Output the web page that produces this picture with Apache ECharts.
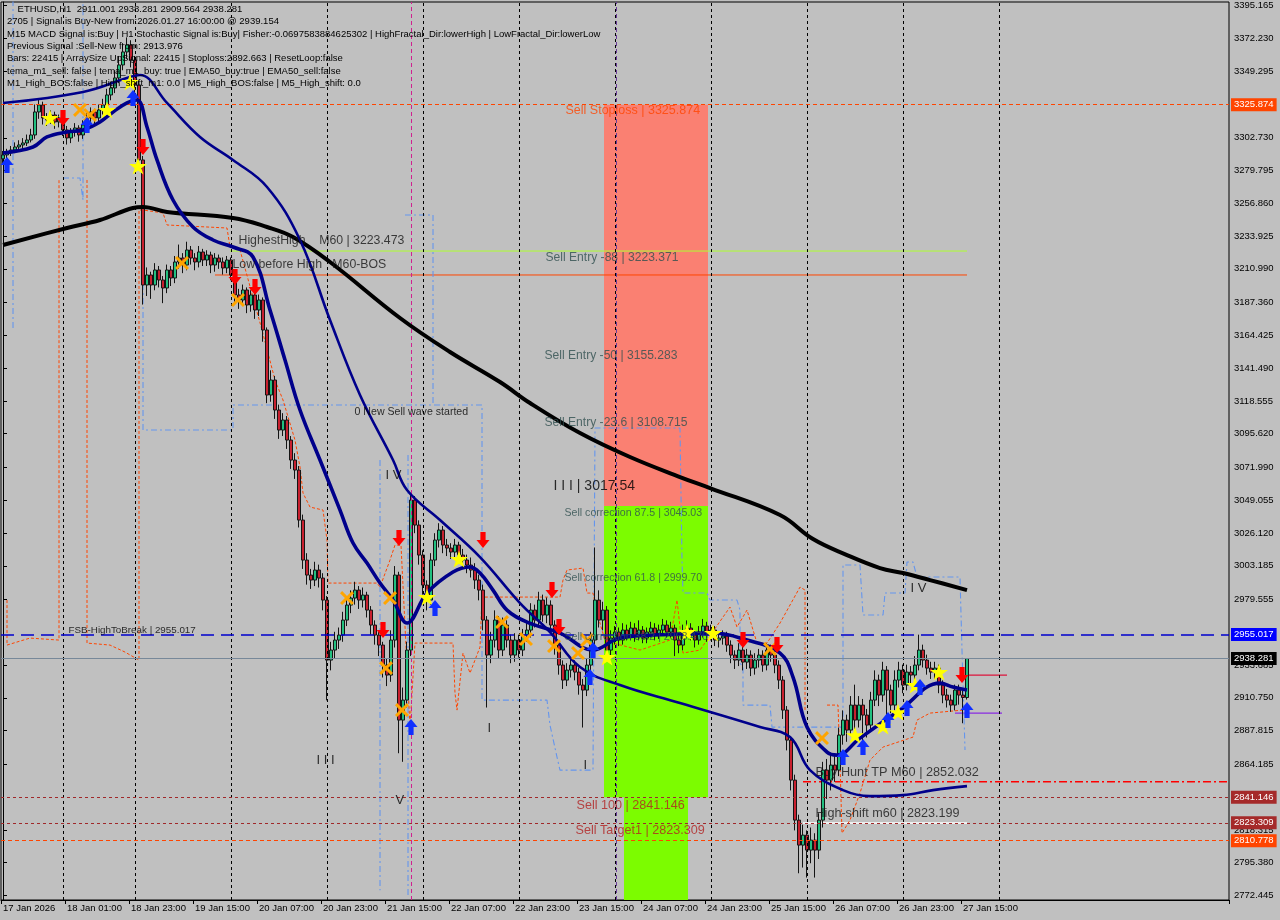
<!DOCTYPE html>
<html><head><meta charset="utf-8">
<script src="https://cdn.jsdelivr.net/npm/echarts@6/dist/echarts.min.js"></script>
<style>html,body{margin:0;padding:0;background:#C0C0C0}#c{width:1280px;height:920px}</style>
</head><body><div id="c"></div>
<script>
// ---------- DATA ----------
const opens=[3288.0,3290.7,3292.8,3294.2,3296.3,3297.7,3299.1,3301.2,3304.7,3320.8,
3325.7,3316.6,3315.2,3318.7,3313.8,3316.6,3308.2,3302.6,3306.8,3309.6,
3304.7,3311.7,3316.6,3320.8,3316.6,3322.2,3325.7,3332.7,3337.6,3344.6,
3353.7,3362.8,3367.7,3357.2,3339.7,3287.2,3199.7,3206.7,3199.7,3210.2,
3203.2,3197.6,3210.2,3204.6,3215.8,3218.6,3213.7,3224.2,3218.6,3215.8,
3222.8,3217.2,3220.7,3213.7,3218.6,3215.8,3211.6,3217.2,3206.7,3192.7,
3189.2,3196.2,3185.7,3192.7,3182.2,3189.2,3168.2,3122.7,3133.2,3112.2,
3098.2,3105.2,3091.2,3077.2,3070.2,3035.2,3007.2,2996.7,2993.2,3000.2,
2994.6,2979.2,2937.2,2944.2,2951.2,2954.7,2965.2,2975.7,2980.6,2986.2,
2979.2,2982.7,2972.2,2961.7,2954.7,2947.7,2933.7,2926.7,2951.2,2996.7,
2895.2,2909.2,2944.2,3049.2,3031.7,3010.7,2989.7,2979.2,3007.2,3021.2,
3028.2,3017.7,3015.6,3012.8,3017.7,3010.7,3007.2,3003.7,3000.2,2993.2,
2986.2,2965.2,2940.7,2951.2,2965.2,2944.2,2961.7,2951.2,2940.7,2951.2,
2944.2,2954.7,2958.2,2972.2,2965.2,2979.2,2968.7,2975.7,2961.7,2947.7,
2933.7,2923.2,2930.2,2933.7,2928.8,2919.7,2916.2,2933.7,2951.2,2979.2,
2965.2,2972.2,2944.2,2952.6,2956.8,2951.2,2958.2,2954.7,2959.6,2954.0,
2958.2,2952.6,2956.8,2959.6,2955.4,2958.2,2961.7,2956.8,2959.6,2951.2,
2947.7,2956.8,2959.6,2954.7,2951.2,2956.8,2961.0,2954.7,2958.2,2951.2,
2952.6,2954.0,2947.7,2940.7,2937.2,2944.2,2935.8,2940.7,2931.6,2937.2,
2940.7,2933.7,2944.2,2940.7,2933.7,2923.2,2902.2,2881.2,2853.2,2825.2,
2807.7,2814.7,2804.2,2811.2,2804.2,2825.2,2860.2,2853.2,2863.7,2860.2,
2884.7,2895.2,2888.2,2905.7,2895.2,2905.7,2898.7,2891.7,2909.2,2923.2,
2912.7,2930.2,2916.2,2905.7,2923.2,2930.2,2919.7,2928.8,2926.7,2933.7,
2944.2,2937.2,2931.6,2928.8,2931.6,2919.7,2912.7,2909.2,2905.7,2916.2,
2912.7,2911.001];
const closes=[3290.7,3292.8,3294.2,3296.3,3297.7,3299.1,3301.2,3304.7,3320.8,3325.7,
3316.6,3315.2,3318.7,3313.8,3316.6,3308.2,3302.6,3306.8,3309.6,3304.7,
3311.7,3316.6,3320.8,3316.6,3322.2,3325.7,3332.7,3337.6,3344.6,3353.7,
3362.8,3367.7,3357.2,3339.7,3287.2,3199.7,3206.7,3199.7,3210.2,3203.2,
3197.6,3210.2,3204.6,3215.8,3218.6,3213.7,3224.2,3218.6,3215.8,3222.8,
3217.2,3220.7,3213.7,3218.6,3215.8,3211.6,3217.2,3206.7,3192.7,3189.2,
3196.2,3185.7,3192.7,3182.2,3189.2,3168.2,3122.7,3133.2,3112.2,3098.2,
3105.2,3091.2,3077.2,3070.2,3035.2,3007.2,2996.7,2993.2,3000.2,2994.6,
2979.2,2937.2,2944.2,2951.2,2954.7,2965.2,2975.7,2980.6,2986.2,2979.2,
2982.7,2972.2,2961.7,2954.7,2947.7,2933.7,2926.7,2951.2,2996.7,2895.2,
2909.2,2944.2,3049.2,3031.7,3010.7,2989.7,2979.2,3007.2,3021.2,3028.2,
3017.7,3015.6,3012.8,3017.7,3010.7,3007.2,3003.7,3000.2,2993.2,2986.2,
2965.2,2940.7,2951.2,2965.2,2944.2,2961.7,2951.2,2940.7,2951.2,2944.2,
2954.7,2958.2,2972.2,2965.2,2979.2,2968.7,2975.7,2961.7,2947.7,2933.7,
2923.2,2930.2,2933.7,2928.8,2919.7,2916.2,2933.7,2951.2,2979.2,2965.2,
2972.2,2944.2,2952.6,2956.8,2951.2,2958.2,2954.7,2959.6,2954.0,2958.2,
2952.6,2956.8,2959.6,2955.4,2958.2,2961.7,2956.8,2959.6,2951.2,2947.7,
2956.8,2959.6,2954.7,2951.2,2956.8,2961.0,2954.7,2958.2,2951.2,2952.6,
2954.0,2947.7,2940.7,2937.2,2944.2,2935.8,2940.7,2931.6,2937.2,2940.7,
2933.7,2944.2,2940.7,2933.7,2923.2,2902.2,2881.2,2853.2,2825.2,2807.7,
2814.7,2804.2,2811.2,2804.2,2825.2,2860.2,2853.2,2863.7,2860.2,2884.7,
2895.2,2888.2,2905.7,2895.2,2905.7,2898.7,2891.7,2909.2,2923.2,2912.7,
2930.2,2916.2,2905.7,2923.2,2930.2,2919.7,2928.8,2926.7,2933.7,2944.2,
2937.2,2931.6,2928.8,2931.6,2919.7,2912.7,2909.2,2905.7,2916.2,2912.7,
2911.0,2938.281];
const highs=[3293.5,3295.0,3297.0,3299.5,3301.0,3302.5,3305.0,3309.0,3326.0,3330.0,
3328.0,3320.0,3322.0,3321.0,3319.0,3318.0,3311.0,3309.5,3313.0,3311.5,
3315.0,3320.0,3324.0,3323.0,3326.0,3330.0,3337.0,3342.0,3350.0,3360.0,
3369.0,3373.0,3371.0,3360.0,3343.0,3290.0,3212.0,3209.0,3215.0,3213.0,
3206.0,3214.0,3213.0,3220.0,3228.0,3222.0,3230.0,3227.0,3222.0,3227.0,
3225.0,3224.0,3223.0,3222.0,3221.0,3219.0,3220.0,3219.0,3209.0,3197.0,
3200.0,3198.0,3196.0,3194.0,3193.0,3191.0,3170.0,3140.0,3136.0,3116.0,
3110.0,3108.0,3094.0,3082.0,3073.0,3039.0,3012.0,3001.0,3006.0,3004.0,
2998.0,2982.0,2950.0,2957.0,2960.0,2971.0,2982.0,2986.0,2992.0,2989.0,
2988.0,2985.0,2975.0,2965.0,2958.0,2950.0,2938.0,2958.0,3003.0,2999.0,
2918.0,2950.0,3054.0,3052.0,3035.0,3014.0,2993.0,3012.0,3026.0,3033.0,
3031.0,3022.0,3019.0,3022.0,3020.0,3015.0,3011.0,3009.0,3005.0,2997.0,
2990.0,2968.0,2957.0,2972.0,2968.0,2967.0,2965.0,2955.0,2956.0,2955.0,
2959.0,2964.0,2977.0,2976.0,2985.0,2983.0,2981.0,2979.0,2965.0,2951.0,
2937.0,2935.0,2938.0,2937.0,2932.0,2924.0,2938.0,2957.0,3016.0,2986.0,
2978.0,2975.0,2958.0,2961.0,2960.0,2963.0,2962.0,2964.0,2963.0,2965.0,
2961.0,2960.0,2964.0,2963.0,2962.0,2966.0,2965.0,2964.0,2962.0,2955.0,
2962.0,2965.0,2963.0,2958.0,2961.0,2966.0,2964.0,2962.0,2961.0,2957.0,
2958.0,2957.0,2951.0,2944.0,2949.0,2947.0,2945.0,2944.0,2942.0,2945.0,
2944.0,2949.0,2948.0,2944.0,2937.0,2926.0,2905.0,2884.0,2857.0,2829.0,
2822.0,2818.0,2820.0,2816.0,2830.0,2866.0,2868.0,2872.0,2870.0,2890.0,
2902.0,2899.0,2912.0,2920.0,2912.0,2910.0,2903.0,2915.0,2930.0,2927.0,
2936.0,2933.0,2920.0,2930.0,2936.0,2934.0,2934.0,2933.0,2940.0,2955.0,
2948.0,2941.0,2936.0,2936.0,2934.0,2923.0,2917.0,2913.0,2920.0,2920.0,
2916.0,2938.281];
const lows=[3284.0,3288.5,3290.0,3292.0,3294.5,3295.0,3297.0,3299.5,3302.0,3316.0,
3312.0,3311.0,3312.5,3309.0,3310.0,3304.0,3298.0,3299.0,3303.5,3300.0,
3302.0,3308.0,3313.0,3312.0,3314.0,3319.0,3322.0,3329.0,3334.0,3341.0,
3350.0,3358.0,3352.0,3334.0,3282.0,3186.0,3192.0,3190.0,3196.0,3198.0,
3187.0,3194.0,3199.0,3201.0,3211.0,3208.0,3210.0,3214.0,3210.0,3212.0,
3213.0,3213.0,3208.0,3209.0,3211.0,3207.0,3208.0,3203.0,3188.0,3183.0,
3185.0,3180.0,3181.0,3176.0,3178.0,3160.0,3117.0,3118.0,3106.0,3092.0,
3094.0,3085.0,3071.0,3064.0,3030.0,3001.0,2990.0,2987.0,2989.0,2988.0,
2972.0,2909.0,2930.0,2938.0,2945.0,2950.0,2961.0,2970.0,2976.0,2973.0,
2974.0,2967.0,2955.0,2948.0,2940.0,2925.0,2919.0,2922.0,2946.0,2872.0,
2866.0,2904.0,2940.0,3026.0,3004.0,2983.0,2972.0,2976.0,3003.0,3016.0,
3012.0,3010.0,3008.0,3009.0,3005.0,3002.0,2998.0,2995.0,2987.0,2979.0,
2958.0,2904.0,2935.0,2946.0,2938.0,2940.0,2946.0,2935.0,2936.0,2939.0,
2940.0,2950.0,2953.0,2960.0,2961.0,2964.0,2963.0,2956.0,2941.0,2927.0,
2917.0,2919.0,2925.0,2923.0,2913.0,2890.0,2912.0,2929.0,2947.0,2960.0,
2958.0,2938.0,2940.0,2948.0,2947.0,2948.0,2951.0,2951.0,2950.0,2951.0,
2949.0,2949.0,2953.0,2951.0,2952.0,2955.0,2953.0,2953.0,2940.0,2942.0,
2944.0,2953.0,2951.0,2946.0,2948.0,2953.0,2950.0,2951.0,2947.0,2946.0,
2948.0,2943.0,2935.0,2931.0,2933.0,2930.0,2931.0,2926.0,2927.0,2932.0,
2929.0,2930.0,2936.0,2928.0,2917.0,2896.0,2874.0,2846.0,2818.0,2788.0,
2792.0,2785.0,2795.0,2785.0,2798.0,2820.0,2840.0,2846.0,2852.0,2856.0,
2878.0,2880.0,2884.0,2889.0,2890.0,2880.0,2883.0,2887.0,2905.0,2905.0,
2908.0,2898.0,2900.0,2902.0,2918.0,2914.0,2916.0,2920.0,2922.0,2930.0,
2932.0,2927.0,2924.0,2924.0,2914.0,2907.0,2904.0,2901.0,2902.0,2906.0,
2893.0,2909.564];

const xLabels=['17 Jan 2026','18 Jan 01:00','18 Jan 23:00','19 Jan 15:00','20 Jan 07:00','20 Jan 23:00','21 Jan 15:00','22 Jan 07:00','22 Jan 23:00','23 Jan 15:00','24 Jan 07:00','24 Jan 23:00','25 Jan 15:00','26 Jan 07:00','26 Jan 23:00','27 Jan 15:00'];
const yTicks=[3395.165,3372.230,3349.295,3302.730,3279.795,3256.860,3233.925,3210.990,3187.360,3164.425,3141.490,3118.555,3095.620,3071.990,3049.055,3026.120,3003.185,2979.555,2933.685,2910.750,2887.815,2864.185,2818.315,2795.380,2772.445];

// indicator lines: [bar index, price]
const emaBlack=[[0,3227.7],[16,3239.6],[24.25,3245.2],[32.5,3253.6],[35,3254.3],[41,3250.8],[57.5,3246.6],[66,3240.3],[72.5,3233.3],[81.75,3215.8],[99.25,3176.6],[111.75,3152.8],[124.25,3131.8],[131.75,3117.1],[144.25,3096.1],[156.75,3079.3],[169.25,3065.3],[176.75,3057.6],[194.25,3038.7],[202.5,3021.9],[211,3010.7],[219.25,3001.6],[225,2998.1],[231.75,2993.2],[241,2986.2]];
const maFast=[[0,3292.1],[7.5,3296.3],[11,3303.3],[16,3306.8],[20,3308.2],[24.25,3313.8],[27.5,3320.8],[31,3327.1],[33.5,3329.2],[36,3310.3],[38.5,3287.2],[42.5,3259.2],[47.5,3240.3],[52.5,3231.2],[57.5,3226.3],[62.5,3219.3],[66.75,3182.2],[70.5,3147.2],[74.25,3112.2],[79.25,3077.2],[84.25,3042.2],[87.5,3019.1],[91,3005.1],[94.25,2991.1],[97.5,2979.2],[101,2963.1],[106,2984.1],[112.5,2998.8],[116.75,3002.3],[119.25,2998.1],[122.5,2986.2],[126,2972.2],[131,2963.8],[139.25,2956.1],[147.5,2944.2],[154.25,2952.6],[169.25,2955.4],[177.5,2956.1],[186,2951.2],[194.25,2942.1],[197.5,2925.3],[201,2890.3],[206,2872.8],[208.5,2870.7],[214.25,2882.6],[224.25,2902.2],[234.25,2921.1],[237.5,2918.3],[241,2916.2]];
const maSlow=[[0,3327.1],[20,3334.8],[31.75,3345.3],[34.25,3346.7],[41,3327.1],[49.25,3303.3],[57.5,3287.2],[66,3268.3],[74.25,3231.2],[81.75,3175.2],[89.25,3122.7],[97.5,3077.2],[101,3056.2],[109.25,3035.2],[119.25,3009.3],[129.25,2977.1],[136.75,2956.8],[144.25,2932.3],[154.25,2919.7],[169.25,2907.1],[189.25,2890.3],[196.75,2883.3],[201.75,2860.2],[210,2846.2],[216.75,2842.0],[225,2842.7],[232.5,2846.2],[241,2849.0]];
const blueSteps=[
 [[2.5,3399.2],[2.5,3168.2]],
 [[15,3274.6],[19.25,3274.6],[20,3259.2],[20,3399.2]],
 [[35,3259.2],[35,3098.2],[57.5,3098.2],[57.5,3115.7],[119.75,3115.7],[119.75,2909.2],[136,2909.2],[136.75,2891.7],[138.5,2869.3],[139.25,2860.2],[147.5,2860.2],[148,3099.6],[169.25,3099.6],[169.75,3007.2],[170,2984.1],[176,2984.1],[176.75,2979.2],[183.5,2979.2],[184.25,2972.2],[184.25,2935.1],[185,2932.3],[185,2905.7],[191.75,2905.7],[192.25,2890.3],[210,2890.3],[210,3003.7],[214.25,3003.7],[215,2968.7],[220,2968.7],[220.5,2984.1],[225.5,2984.1],[226,3005.8],[227.5,3005.8],[228.5,2995.3],[239.25,2995.3],[239.75,2944.2],[240.5,2874.2]],
 [[94.25,3077.2],[94.25,2776.2]],
 [[101.25,3080.7],[101.25,2772.7]],
 [[100.5,3248.7],[107.5,3248.7],[107.5,3115.7]]
];
const orangeSteps=[
 [[1,2979.2],[1,2947.7],[6.75,2952.6],[14,2951.2],[14,3273.2]],
 [[21,3273.2],[21,2949.1],[26.75,2947.7],[30.5,2942.8],[34,2937.2],[34,3252.2],[35,3252.2],[40,3250.1],[41,3241.7],[56,3239.6],[56.75,3226.3],[59.25,3224.2],[64.75,3168.2],[68,3133.2],[70,3119.2],[73,3091.2],[74.25,3072.3],[75,3054.1],[76.75,3044.3],[80,3042.2],[81,3021.2],[81.25,2991.1],[93.5,2991.1],[94.25,2988.3],[96.75,3007.2],[98,3017.7],[99.5,3017.7],[101.75,2890.3],[103,2949.1],[112.5,2949.1],[113,2914.1],[113.5,2902.2],[115,2942.1],[116.75,2928.1],[119.25,2946.3],[119.75,2981.3],[139.25,2981.3],[140,2993.2],[141,3000.2],[145,3001.6],[146,2984.1],[147.5,2984.1],[148.5,2970.1],[151,2946.3],[152.5,2949.1],[159.25,2944.2],[166.75,2951.2],[168.5,2979.2],[169.25,2960.3],[170,2942.1],[174.25,2944.2],[181.75,2974.3],[183.5,2960.3],[186,2972.2],[188.5,2949.1],[191,2949.1],[194.25,2963.1],[199.25,2988.3],[200.5,2986.2],[200.5,2902.2]],
 [[206,2905.7],[208.75,2905.7],[209.25,2865.1],[209.75,2816.1],[211.75,2825.2],[214.25,2844.1],[216.75,2867.2],[220,2876.3],[227.5,2883.3],[228.5,2895.2],[231.75,2900.1],[240,2902.2]]
];
const stars=[[11.75,3316.6],[26,3322.2],[31.75,3341.8],[33.75,3283.0],[106,2981.3],[114,3007.9],[151,2939.3],[171,2956.8],[177.5,2956.1],[213,2884.7],[220,2891.0],[223.75,2900.8],[228,2919.7],[234,2928.8]];
const crosses=[[19.25,3322.2],[21.75,3318.7],[44.75,3215.1],[58.75,3189.2],[86,2980.6],[96.75,2980.6],[95.75,2931.6],[99.75,2902.2],[124.75,2963.8],[130.75,2951.9],[137.75,2947.0],[143.75,2942.1],[146,2951.2],[191.75,2944.9],[204.75,2882.6]];
const sellArrows=[[15,3316.6],[35,3296.3],[58,3205.3],[63,3198.3],[99,3022.6],[95,2958.2],[120,3021.2],[137.25,2986.2],[139,2960.3],[185,2951.2],[193.5,2947.7],[239.75,2926.7]];
const buyArrows=[[1,3283.7],[21,3311.7],[32.5,3330.6],[108,2973.6],[102,2890.3],[146.75,2925.3],[147.5,2944.2],[210,2869.3],[215,2876.3],[221.25,2895.2],[226,2903.6],[229.25,2918.3],[241,2902.2]];
const dayGridIdx=[15,33,57,81,105,129,153,177,201,225,249];
const tagValues=[3325.874,2955.017,2938.281,2841.146,2823.309,2810.778];
const zoneStop=3325.874, zoneEntry=3045.03, zoneSell100=2841.146;
const headerLines=['    ETHUSD,H1  2911.001 2938.281 2909.564 2938.281',
'2705 | Signal is Buy-New from:2026.01.27 16:00:00 @ 2939.154',
'M15 MACD Signal is:Buy | H1 Stochastic Signal is:Buy| Fisher:-0.0697583884625302 | HighFractal_Dir:lowerHigh | LowFractal_Dir:lowerLow',
'Previous Signal :Sell-New from: 2913.976',
'Bars: 22415 | ArraySize UpSignal: 22415 | Stoploss:2892.663 | ResetLoop:false',
'tema_m1_sell: false | tema_m1_buy: true | EMA50_buy:true | EMA50_sell:false',
'M1_High_BOS:false | High_shift_m1: 0.0 | M5_High_BOS:false | M5_High_shift: 0.0'];
const annots=[
 {t:'Sell Stoploss | 3325.874',x:140.5,p:3321.5,s:'stop'},
 {t:'HighestHigh    M60 | 3223.473',x:58.75,p:3230.5,s:'big'},
 {t:'Low before High   M60-BOS',x:57.25,p:3213.7,s:'big'},
 {t:'Sell Entry -88 | 3223.371',x:135.5,p:3218.6,s:'entry'},
 {t:'Sell Entry -50 | 3155.283',x:135.25,p:3150.0,s:'entry'},
 {t:'Sell Entry -23.6 | 3108.715',x:135.25,p:3103.1,s:'entry'},
 {t:'I I I | 3017.54',x:137.5,p:3059.0,s:'wave'},
 {t:'Sell correction 87.5 | 3045.03',x:140.25,p:3040.1,s:'corr'},
 {t:'Sell correction 61.8 | 2999.70',x:140.25,p:2994.6,s:'corr'},
 {t:'Sell correction 38.2 | 2968.470',x:140.25,p:2953.3,s:'corr'},
 {t:'0 New Sell wave started',x:87.75,p:3110.8,s:'small'},
 {t:'I V',x:95.5,p:3066.7,s:'wave2'},
 {t:'I V',x:226.75,p:2987.6,s:'wave2'},
 {t:'V',x:98,p:2839.2,s:'wave2'},
 {t:'I I I',x:78.25,p:2867.2,s:'wave2'},
 {t:'I',x:121,p:2889.6,s:'wave2'},
 {t:'I',x:145,p:2863.7,s:'wave2'},
 {t:'FSB-HighToBreak | 2955.017',x:16.25,p:2958.2,s:'fsb'},
 {t:'Buy Hunt TP M60 | 2852.032',x:203,p:2858.8,s:'big2'},
 {t:'High-shift m60 | 2823.199',x:203,p:2830.1,s:'mid'},
 {t:'Sell 100 | 2841.146',x:143.25,p:2835.7,s:'sell'},
 {t:'Sell Target1 | 2823.309',x:143,p:2818.2,s:'sell'}
];

// ---------- STYLE / LAYOUT ----------
const FONT='"Liberation Sans", Arial, sans-serif';
const N_SLOTS=307;
const Y_MIN=2769.29, Y_MAX=3397.76;
const cats=Array.from({length:N_SLOTS},(_,i)=>String(i));
const annStyle={
 stop:{color:'#FF4500',fontSize:12.5},
 big:{color:'#151515',fontSize:12.3},
 big2:{color:'#151515',fontSize:12.7},
 mid:{color:'#151515',fontSize:12.6},
 entry:{color:'#2F4F4F',fontSize:12.1},
 corr:{color:'#2F4F4F',fontSize:10.6},
 wave:{color:'#000',fontSize:14},
 wave2:{color:'#000',fontSize:13},
 small:{color:'#000',fontSize:10.6},
 fsb:{color:'#000',fontSize:9.8},
 sell:{color:'#B22222',fontSize:12.6}
};
const tagStyle=[
 {bg:'#FF4500',line:'#FF4500',type:[4,3],w:1},
 {bg:'#0000FF',line:'#0000CD',type:[13,7],w:1.5},
 {bg:'#000000',line:'#778899',type:'solid',w:1},
 {bg:'#A52A2A',line:'#A0282A',type:[3,3],w:1},
 {bg:'#A52A2A',line:'#A0282A',type:[3,3],w:1},
 {bg:'#FF4500',line:'#FF4500',type:[4,3],w:1}
];
const STAR='path://M50,0 L61,35 L98,35 L68,57 L79,91 L50,70 L21,91 L32,57 L2,35 L39,35 Z';
const CROSS='path://M0,15 L15,0 L50,35 L85,0 L100,15 L65,50 L100,85 L85,100 L50,65 L15,100 L0,85 L35,50 Z';
const DOWN='path://M30,0 L70,0 L70,50 L100,50 L50,100 L0,50 L30,50 Z';
const UP='path://M50,0 L100,50 L70,50 L70,100 L30,100 L30,50 L0,50 Z';
const showIdx=(i)=> i%16===0 && i<=240;

function seg(data,color,width,type,z){
 return {type:'line',xAxisIndex:1,yAxisIndex:0,data:data,symbol:'none',silent:true,z:z||3,
  lineStyle:{color:color,width:width,type:type||'solid'},animation:false};
}

const series=[];
series.push({type:'line',xAxisIndex:1,data:[[-5,3000]],symbol:'none',lineStyle:{opacity:0},silent:true,z:1,
 markLine:{silent:true,symbol:'none',animation:false,label:{show:false},
  lineStyle:{color:'#000',type:[3,3],width:1},
  data:dayGridIdx.map(v=>({xAxis:v}))}});
series.push({type:'line',xAxisIndex:1,data:[[-5,3000]],symbol:'none',lineStyle:{opacity:0},silent:true,z:2,
 markArea:{silent:true,animation:false,data:[
  [{xAxis:150.25,yAxis:zoneStop,itemStyle:{color:'#FA8072',opacity:1}},{xAxis:176.25,yAxis:zoneEntry}],
  [{xAxis:150.25,yAxis:zoneEntry,itemStyle:{color:'#7CFC00',opacity:1}},{xAxis:176.25,yAxis:zoneSell100}],
  [{xAxis:155.25,yAxis:zoneSell100,itemStyle:{color:'#7CFC00',opacity:1}},{xAxis:171.25,yAxis:Y_MIN}]
 ]},
 markLine:{silent:true,symbol:'none',animation:false,label:{show:false},data:[
  {xAxis:102,lineStyle:{color:'#D0208F',type:[4,3],width:1}},
  {xAxis:153.25,lineStyle:{color:'#6A3D9A',type:[4,3],width:1}}
 ]}});
series.push({type:'line',xAxisIndex:1,data:[[-5,3000]],symbol:'none',lineStyle:{opacity:0},silent:true,z:3,
 markLine:{silent:true,symbol:'none',animation:false,
  data:tagValues.map((v,k)=>({yAxis:v,lineStyle:{color:tagStyle[k].line,type:tagStyle[k].type,width:tagStyle[k].w},
   label:{show:true,position:'end',formatter:v.toFixed(3),backgroundColor:tagStyle[k].bg,color:'#fff',
    padding:[2,3,1,3],fontFamily:FONT,fontSize:9.5,distance:2}}))}});
series.push(seg([[56.75,3223.473],[241,3223.473]],'#ADFF2F',1,'solid',3));
series.push(seg([[53,3206.7],[241,3206.7]],'#FF4500',1,'solid',3));
series.push(seg([[200,2852.032],[306.5,2852.032]],'#FF0000',1.5,[8,3,2,3],3));
series.push(seg([[200,2823.199],[241,2823.199]],'#FFFFFF',1.5,'solid',3));
series.push(seg([[241,2926.7],[251,2926.7]],'#DC143C',1.2,'solid',3));
series.push(seg([[238,2900.1],[249.75,2900.1]],'#8A2BE2',1.2,'solid',3));
blueSteps.forEach(d=>series.push(seg(d,'#6495ED',1.1,[6,3,2,3],3)));
orangeSteps.forEach(d=>series.push(seg(d,'#FF4500',1,[3,2],3)));
series.push({type:'candlestick',xAxisIndex:0,yAxisIndex:0,z:4,barWidth:3,
 data:opens.map((o,i)=>[o,closes[i],lows[i],highs[i]]),
 itemStyle:{color:'#22C080',color0:'#C8202F',borderColor:'#141414',borderColor0:'#141414',borderWidth:1}});
series.push(Object.assign(seg(emaBlack,'#000',4,'solid',5),{smooth:0.4}));
series.push(Object.assign(seg(maSlow,'#00008B',2.6,'solid',5),{smooth:0.4}));
series.push(Object.assign(seg(maFast,'#00008B',3.6,'solid',5),{smooth:0.4}));
function mk(data,sym,size,color){
 return {type:'scatter',xAxisIndex:1,yAxisIndex:0,data:data,symbol:sym,symbolSize:size,z:6,silent:true,
  itemStyle:{color:color,opacity:1}};
}
series.push(mk(crosses,CROSS,14,'#FFA500'));
series.push(mk(stars,STAR,[18,17],'#FFFF00'));
series.push(mk(sellArrows,DOWN,[13,16],'#FF0000'));
series.push(mk(buyArrows,UP,[13,16],'#1030FF'));
series.push({type:'scatter',xAxisIndex:1,yAxisIndex:0,z:7,silent:true,symbolSize:1,
 itemStyle:{color:'rgba(0,0,0,0)'},
 data:annots.map(a=>({value:[a.x,a.p],label:{show:true,position:'right',distance:0,formatter:a.t,
  color:annStyle[a.s].color,fontSize:annStyle[a.s].fontSize,fontFamily:FONT}}))});

const option={
 animation:false,
 backgroundColor:'#C0C0C0',
 grid:{left:1,right:51,top:2,bottom:20,show:true,borderColor:'#000',borderWidth:1,backgroundColor:'transparent'},
 xAxis:[
  {type:'category',data:cats,boundaryGap:true,
   axisLine:{show:true,lineStyle:{color:'#000',width:1}},
   axisTick:{show:true,interval:showIdx,length:4,lineStyle:{color:'#000'}},
   axisLabel:{interval:showIdx,formatter:(v,i)=>xLabels[Math.round(i/16)]||'',align:'left',color:'#000',fontFamily:FONT,fontSize:9.5,margin:3},
   splitLine:{show:false}},
  {type:'value',min:-0.5,max:N_SLOTS-0.5,show:false,splitLine:{show:false}}
 ],
 yAxis:{type:'value',position:'right',min:Y_MIN,max:Y_MAX,
  axisLine:{show:true,lineStyle:{color:'#000',width:1}},
  axisTick:{show:true,customValues:yTicks,length:4,lineStyle:{color:'#000'}},
  axisLabel:{customValues:yTicks,formatter:v=>Number(v).toFixed(3),color:'#000',fontFamily:FONT,fontSize:9.5,margin:5},
  splitLine:{show:false}},
 graphic:[{type:'text',left:7,top:3,z:100,silent:true,
  style:{text:headerLines.join('\n'),fontFamily:FONT,fontSize:9.5,lineHeight:12.4,fill:'#000'}}],
 series:series
};
const chart=echarts.init(document.getElementById('c'),null,{renderer:'canvas'});
chart.setOption(option);
</script></body></html>
